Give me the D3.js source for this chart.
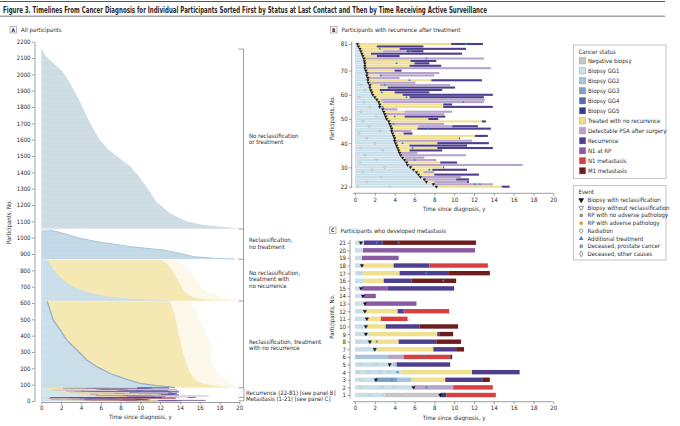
<!DOCTYPE html>
<html><head><meta charset="utf-8">
<script src="https://cdn.jsdelivr.net/npm/d3@7"></script>
<style>
body{margin:0;background:#fff}
svg{display:block}
text{font-family:"Liberation Sans Narrow","DejaVu Sans Condensed",Lato,sans-serif;fill:#2a2a2a}
</style></head>
<body><svg id="c" width="680" height="426"></svg>
<script>
// ---------- legend data ----------
const statusNames = ["Negative biopsy","Biopsy GG1","Biopsy GG2","Biopsy GG3","Biopsy GG4","Biopsy GG5","Treated with no recurrence","Detectable PSA after surgery","Recurrence","N1 at RP","N1 metastasis","M1 metastasis"];
const statusColors = ["#c6c6c6","#c8dfea","#a6c6de","#7d9fc6","#5b69ab","#2f3f8f","#f1df90","#b8a2ce","#4e3e8e","#8a5aa2","#d8403f","#6d1d1e"];
const eventNames = ["Biopsy with reclassification","Biopsy without reclassification","RP with no adverse pathology","RP with adverse pathology","Radiation","Additional treatment","Deceased, prostate cancer","Deceased, other causes"];

// ---------- panel A: group outlines [participant no., years] ----------
const g1Edge = [[2155,0.05],[2110,0.47],[2069,1.2],[2018,2.15],[1947,2.9],[1834,3.9],[1722,4.75],[1650,5.4],[1599,5.9],[1538,6.8],[1487,7.9],[1436,9.0],[1364,10.0],[1313,10.6],[1221,11.6],[1150,13.0],[1099,14.7],[1078,16.4],[1058,19.7],[1054,19.9]];
const g2Edge = [[1049,0.8],[1027,2.2],[996,3.9],[976,5.6],[945,9.0],[935,10.6],[925,12.3],[904,14.0],[884,15.4],[874,17.4],[870,19.0],[869,19.5]];
const g3Treat = [[866,0.6],[833,0.9],[782,1.55],[741,2.2],[700,3.2],[669,4.6],[643,6.3],[626,9.0],[618,12.3],[614,14.0]];
const g3End = [[866,12.0],[840,12.8],[800,13.2],[760,13.6],[720,14.0],[680,14.3],[650,14.8],[630,15.5],[618,17.0],[614,19.8]];
const g3Tail = [[866,13.5],[830,14.5],[790,15.0],[750,15.5],[710,16.0],[670,16.5],[640,18.0],[620,19.5],[614,19.9]];
const g4Treat = [[611,0.6],[557,0.88],[496,1.2],[435,1.9],[374,2.55],[312,3.6],[251,4.6],[210,5.6],[170,6.9],[139,8.3],[108,10.0],[94,11.6],[86,13.0],[82,13.5]];
const g4End = [[611,13.0],[560,13.3],[500,13.6],[440,13.8],[380,14.0],[320,14.2],[260,14.5],[200,14.8],[150,15.2],[115,15.8],[95,17.0],[85,19.0],[82,19.8]];
const g4Tail = [[611,15.0],[560,15.5],[500,16.0],[440,16.5],[380,17.0],[320,17.3],[260,17.0],[200,17.5],[150,18.0],[110,19.0],[90,19.8],[82,19.9]];
const groupLabels = [["No reclassification","or treatment"],["Reclassification,","no treatment"],["No reclassification,","treatment with","no recurrence"],["Reclassification, treatment","with no recurrence"]];
const groupBounds = [2155,1053,868,612,81];

// ---------- panel B: participants 22..81 (years) ----------
const bTreat   = [8.2,7.9,7.2,7.0,6.6,6.4,6.2,5.9,5.6,5.3,5.2,5.0,4.8,4.6,4.5,4.4,4.3,4.2,4.1,4.0,4.0,3.9,3.8,3.7,3.7,3.6,3.5,3.4,3.2,3.1,3.0,2.9,2.8,2.5,2.5,2.4,2.2,2.0,1.8,1.7,1.6,1.5,1.5,1.35,1.3,1.3,1.2,1.2,1.1,1.0,1.0,1.0,0.95,0.9,0.8,0.7,0.6,0.5,0.35,0.25];
const bYellowEnd=[14.8,7.9,8.0,7.1,6.7,8.0,6.9,7.8,8.9,5.4,8.6,5.1,5.0,4.7,4.6,5.5,8.3,5.5,8.3,4.1,10.5,12.1,4.9,3.8,6.3,6.4,3.6,12.8,7.4,5.0,3.1,5.0,2.9,8.9,8.9,2.8,2.6,5.5,4.8,4.0,2.5,3.3,2.5,1.5,7.7,1.4,2.5,1.3,4.0,1.1,5.5,6.0,5.6,1.0,2.2,1.6,2.8,4.5,2.2,9.7];
const bPsaEnd  = [14.8,13.9,11.3,10.2,10.7,8.0,8.0,7.8,8.9,16.9,8.6,8.2,7.0,11.2,6.3,5.5,8.3,5.5,8.3,11.8,10.5,12.1,4.9,5.7,6.3,9.8,9.0,12.8,7.4,5.0,9.0,9.8,4.3,8.9,8.9,13.0,13.1,5.5,4.8,4.0,2.5,3.3,9.6,6.1,7.7,4.5,8.0,8.5,4.0,13.7,5.5,6.0,5.6,13.0,2.2,1.6,5.2,4.5,2.2,9.7];
const bRecEnd  = [15.6,13.9,11.5,11.5,10.7,12.5,8.0,11.3,9.0,16.9,10.3,8.2,7.0,11.2,6.3,8.8,13.9,11.3,13.5,11.8,10.6,13.4,5.8,5.7,13.7,12.4,9.0,13.2,8.4,9.1,9.0,9.8,4.3,13.9,9.8,13.0,13.1,13.0,13.9,7.5,8.8,10.1,9.6,6.1,12.8,4.5,8.0,8.5,4.7,13.7,8.7,7.5,8.2,13.0,4.5,10.8,6.9,11.2,6.9,12.9];
const bHollow = [[22,0.3],[22,3.5],[24,1.2],[26,2.6],[28,0.8],[29,1.7],[30,3.0],[32,0.5],[33,2.2],[35,1.0],[37,2.8],[38,0.6],[40,2.0],[42,1.2],[44,0.4],[45,2.5],[47,1.4],[49,0.8],[51,2.2],[53,0.6],[55,1.5],[57,0.9],[59,0.4],[62,1.0],[64,0.6]];
const bAdditional = [[81,11.2],[79,2.5],[78,5.6],[75,7.2],[73,4.2],[68,2.6],[66,5.5],[64,3.0],[61,2.7],[59,5.2],[57,10.9],[55,2.8],[51,4.0],[48,3.9],[46,7.4],[40,4.8],[38,5.8],[33,6.0],[29,7.5],[23,12.1],[23,12.6]];

// ---------- panel C: participants 1..21, segments [participant, status index, start, end] ----------
const cSegments = [
 [1,1,0,3.0],[1,0,3.0,8.6],[1,5,8.6,9.2],[1,10,9.2,14.2],
 [2,1,0,5.9],[2,7,5.9,9.9],[2,10,9.9,13.9],
 [3,1,0,2.1],[3,3,2.1,4.3],[3,2,4.3,5.7],[3,6,5.7,9.1],[3,8,9.1,12.9],[3,11,12.9,13.6],
 [4,1,0,4.6],[4,6,4.6,11.8],[4,8,11.8,16.6],
 [5,1,0,3.8],[5,2,3.8,4.2],[5,8,4.2,9.6],
 [6,2,0,3.3],[6,7,3.3,4.9],[6,10,4.9,9.6],[6,11,9.6,9.8],
 [7,1,0,2.2],[7,6,2.2,7.9],[7,8,7.9,10.2],[7,11,10.2,11.0],
 [8,1,0,1.5],[8,6,1.5,4.4],[8,8,4.4,8.2],[8,11,8.2,10.7],
 [9,1,0,1.5],[9,6,1.5,8.3],[9,8,8.3,8.5],[9,11,8.5,9.9],
 [10,1,0,1.2],[10,6,1.2,3.1],[10,8,3.1,6.5],[10,11,6.5,10.4],
 [11,1,0,1.2],[11,6,1.2,2.6],[11,10,2.6,5.3],
 [12,1,0,1.0],[12,6,1.0,4.3],[12,8,4.3,5.0],[12,10,5.0,9.5],
 [13,1,0,1.0],[13,9,1.0,6.2],
 [14,1,0,0.9],[14,9,0.9,2.1],
 [15,1,0,0.7],[15,9,0.7,3.3],[15,8,3.3,10.0],
 [16,1,0,0.9],[16,6,0.9,2.9],[16,8,2.9,5.7],[16,11,5.7,10.2],
 [17,1,0,0.9],[17,6,0.9,4.5],[17,8,4.5,9.4],[17,11,9.4,13.6],
 [18,1,0,0.7],[18,6,0.7,3.9],[18,8,3.9,7.5],[18,10,7.5,13.4],
 [19,1,0,0.7],[19,9,0.7,4.4],
 [20,1,0,0.8],[20,9,0.8,12.1],
 [21,1,0,0.9],[21,8,0.9,2.8],[21,11,2.8,12.2]
];
const cReclass = [[21,0.6],[18,0.7],[15,0.6],[14,0.8],[13,1.0],[12,1.0],[11,1.2],[10,1.1],[9,1.1],[8,1.5],[7,2.0],[5,3.5],[3,2.1],[2,5.9],[1,8.6]];
const cHollow = [[21,0.5],[17,0.5],[8,0.4],[5,0.5],[5,2.1],[4,0.3],[4,1.3],[4,2.5],[4,3.4],[3,0.6],[2,0.6],[2,2.7],[2,3.9],[1,1.5],[1,3.0],[1,5.2]];
const cAdditional = [[21,2.2],[21,4.4],[17,7.2],[16,8.9],[12,4.9],[8,2.2],[6,7.0],[4,4.3],[3,3.7],[2,7.2]];

// ---------- axis ticks ----------
const aYTicks = d3.range(0,2201,100);
const timeTicks = d3.range(0,21,2);
const bYTicks = [22,30,40,50,60,70,81];
const cYTicks = d3.range(1,22);

// ================= drawing =================
const svg = d3.select('#c');
const FS = 6;
const FONT = '"Liberation Sans Narrow","DejaVu Sans Condensed",Lato,sans-serif';

// title block
svg.append('line').attr('x1',0).attr('x2',665).attr('y1',1.5).attr('y2',1.5).attr('stroke','#c3262d').attr('stroke-width',1.2);
svg.append('text').attr('x',3).attr('y',12.6).attr('font-size',8).attr('font-weight','bold').attr('fill','#333')
  .attr('textLength',484).attr('lengthAdjust','spacingAndGlyphs')
  .text('Figure 3. Timelines From Cancer Diagnosis for Individual Participants Sorted First by Status at Last Contact and Then by Time Receiving Active Surveillance');
svg.append('line').attr('x1',0).attr('x2',665).attr('y1',16.3).attr('y2',16.3).attr('stroke','#a3a3a3').attr('stroke-width',1.6);

function panelLabel(x,y,letter,title){
  svg.append('rect').attr('x',x).attr('y',y).attr('width',6.5).attr('height',6.5).attr('fill','#fff').attr('stroke','#888').attr('stroke-width',0.6);
  svg.append('text').attr('x',x+3.25).attr('y',y+5.3).attr('text-anchor','middle').attr('font-size',5).attr('font-weight','bold').text(letter);
  svg.append('text').attr('x',x+11).attr('y',y+5.6).attr('font-size',FS).text(title);
}
panelLabel(10,26.5,'A','All participants');
panelLabel(330.5,26.5,'B','Participants with recurrence after treatment');
panelLabel(329.5,227,'C','Participants who developed metastasis');

function styleAxis(g){
  g.selectAll('path.domain').attr('stroke','#777').attr('stroke-width',0.7);
  g.selectAll('.tick line').attr('stroke','#777').attr('stroke-width',0.7);
  g.selectAll('.tick text').attr('font-size',FS).attr('fill','#333').attr('font-family',FONT);
}
function yTitle(x,y,t){
  svg.append('text').attr('transform',`translate(${x},${y}) rotate(-90)`).attr('text-anchor','middle').attr('font-size',FS).text(t);
}
function xTitle(x,y,t){
  svg.append('text').attr('x',x).attr('y',y).attr('text-anchor','middle').attr('font-size',FS).text(t);
}

// ---------------- Panel A ----------------
const xA = d3.scaleLinear().domain([0,20]).range([41.3,239.3]);
const yA = d3.scaleLinear().domain([0,2200]).range([401,41.7]);
const gA = svg.append('g');
const areaA = d3.area().y(d=>yA(d[0])).x0(xA(0)).x1(d=>xA(d[1]));
const areaAsmooth = d3.area().y(d=>yA(d[0])).x0(xA(0)).x1(d=>xA(d[1])).curve(d3.curveBasis);
const lineA = d3.line().y(d=>yA(d[0])).x(d=>xA(d[1]));

gA.append('path').datum(g1Edge).attr('d',areaA).attr('fill','#c9d9e1');
gA.append('path').datum(g2Edge).attr('d',areaA).attr('fill','#bcd5e5');
gA.append('path').datum(g2Edge).attr('d',lineA).attr('fill','none').attr('stroke','#a2c0da').attr('stroke-width',1);
gA.append('path').datum(g3Tail).attr('d',areaAsmooth).attr('fill','#fcf8e8');
gA.append('path').datum(g3End).attr('d',areaAsmooth).attr('fill','#f4e6aa');
gA.append('path').datum(g3Treat).attr('d',areaA).attr('fill','#c4dbe7');
gA.append('path').datum(g4Tail).attr('d',areaAsmooth).attr('fill','#fcf8e8');
gA.append('path').datum(g4End).attr('d',areaAsmooth).attr('fill','#f4e6aa');
gA.append('path').datum(g4Treat).attr('d',areaA).attr('fill','#c4dbe7');
gA.append('path').datum(g4Treat).attr('d',lineA).attr('fill','none').attr('stroke','#86a8cb').attr('stroke-width',1.3);

// streak texture (white hairlines) over the large groups
const streakRows = d3.range(90,2150,7);
gA.append('g').selectAll('line').data(streakRows).join('line')
  .attr('x1',xA(0)).attr('x2',xA(20)).attr('y1',d=>yA(d)).attr('y2',d=>yA(d))
  .attr('stroke','#fff').attr('stroke-width',0.3).attr('opacity',0.5);

function drawBRows(g,x,y,h){
  for(let i=0;i<bTreat.length;i++){
    const row=22+i;
    const segs=[[1,0,bTreat[i]],[6,bTreat[i],bYellowEnd[i]],[7,bYellowEnd[i],bPsaEnd[i]],[8,bPsaEnd[i],bRecEnd[i]]];
    segs.forEach(s=>{ if(s[2]>s[1]) g.append('rect').attr('x',x(s[1])).attr('width',x(s[2])-x(s[1]))
      .attr('y',y(row)-h/2).attr('height',h).attr('fill',statusColors[s[0]]); });
  }
}
function drawCRows(g,x,y,h){
  g.selectAll(null).data(cSegments).join('rect')
    .attr('x',d=>x(d[2])).attr('width',d=>x(d[3])-x(d[2]))
    .attr('y',d=>y(d[0])-h/2).attr('height',h).attr('fill',d=>statusColors[d[1]]);
}
drawBRows(gA.append('g').attr('opacity',0.8),xA,yA,1.0);
drawCRows(gA.append('g').attr('opacity',0.8),xA,yA,0.9);

const axAy = svg.append('g').attr('transform','translate(34.5,0)')
  .call(d3.axisLeft(yA).tickValues(aYTicks).tickFormat(d3.format('d')).tickSize(2.5).tickSizeOuter(0).tickPadding(1.5));
styleAxis(axAy);
const axAx = svg.append('g').attr('transform','translate(0,402)')
  .call(d3.axisBottom(xA).tickValues(timeTicks).tickSize(2.5).tickSizeOuter(0).tickPadding(1.5));
styleAxis(axAx);
yTitle(10.5,222,'Participants, No.');
xTitle(xA(10),418.8,'Time since diagnosis, y');

// group brackets
const br = svg.append('g').attr('stroke','#888').attr('stroke-width',0.8).attr('fill','none');
br.append('line').attr('x1',243.5).attr('x2',243.5).attr('y1',yA(groupBounds[0])).attr('y2',yA(groupBounds[4]));
groupBounds.forEach(v=>br.append('line').attr('x1',238.5).attr('x2',243.5).attr('y1',yA(v)).attr('y2',yA(v)));
br.append('line').attr('x1',244).attr('x2',244).attr('y1',yA(81)).attr('y2',yA(22));
br.append('line').attr('x1',238.5).attr('x2',244).attr('y1',yA(22)).attr('y2',yA(22));
br.append('line').attr('x1',244).attr('x2',244).attr('y1',yA(21)).attr('y2',yA(1));
br.append('line').attr('x1',238.5).attr('x2',244).attr('y1',yA(1)).attr('y2',yA(1));
const labelYs = [137.7,242.2,274.7,343.7];
groupLabels.forEach((lines,k)=>{
  lines.forEach((t,j)=>svg.append('text').attr('x',249).attr('y',labelYs[k]+j*6.7).attr('font-size',FS).text(t));
});
svg.append('text').attr('x',246).attr('y',394.6).attr('font-size',FS).text('Recurrence (22-81) [see panel B]');
svg.append('text').attr('x',246).attr('y',401.2).attr('font-size',FS).text('Metastasis (1-21) [see panel C]');

// markers
function triDown(g,pts,x,y,size,fill,stroke){
  g.selectAll(null).data(pts).join('path')
    .attr('d',d3.symbol().type(d3.symbolTriangle).size(size)())
    .attr('transform',d=>`translate(${x(d[1])},${y(d[0])}) rotate(180)`)
    .attr('fill',fill).attr('stroke',stroke).attr('stroke-width',0.35);
}
function triUp(g,pts,x,y,size,fill){
  g.selectAll(null).data(pts).join('path')
    .attr('d',d3.symbol().type(d3.symbolTriangle).size(size)())
    .attr('transform',d=>`translate(${x(d[1])},${y(d[0])})`).attr('fill',fill);
}

// ---------------- Panel B ----------------
const xB = d3.scaleLinear().domain([0,20]).range([355,553.3]);
const yB = d3.scaleLinear().domain([22,81]).range([186.7,44]);
const gB = svg.append('g');
drawBRows(gB,xB,yB,2.1);
triDown(gB,bHollow,xB,yB,2.5,'#fff','#888');
triUp(gB,bAdditional,xB,yB,3,'#2f8fc9');
triDown(gB,bTreat.map((t,i)=>[22+i,t]),xB,yB,3.2,'#111','#111');
const axBy = svg.append('g').attr('transform','translate(351.7,0)')
  .call(d3.axisLeft(yB).tickValues(bYTicks).tickSize(2.5).tickSizeOuter(0).tickPadding(1.5));
styleAxis(axBy);
axBy.select('path.domain').attr('d','M0,188.3V41.7');
const axBx = svg.append('g').attr('transform','translate(0,193.3)')
  .call(d3.axisBottom(xB).tickValues(timeTicks).tickSize(2.5).tickSizeOuter(0).tickPadding(1.5));
styleAxis(axBx);
axBx.select('path.domain').attr('d','M353,0H553.3');
yTitle(334,118,'Participants, No.');
xTitle(xB(10),210.8,'Time since diagnosis, y');

// ---------------- Panel C ----------------
const xC = d3.scaleLinear().domain([0,20]).range([355,553.3]);
const yC = d3.scaleLinear().domain([1,21]).range([395,242.7]);
const gC = svg.append('g');
drawCRows(gC,xC,yC,4.4);
triDown(gC,cHollow,xC,yC,3.5,'#fff','#888');
triUp(gC,cAdditional,xC,yC,3.5,'#2f8fc9');
triDown(gC,cReclass,xC,yC,5,'#111','#111');
const axCy = svg.append('g').attr('transform','translate(350,0)')
  .call(d3.axisLeft(yC).tickValues(cYTicks).tickSize(2.5).tickSizeOuter(0).tickPadding(1.5));
styleAxis(axCy);
axCy.select('path.domain').attr('d','M0,398.3V240');
const axCx = svg.append('g').attr('transform','translate(0,401.7)')
  .call(d3.axisBottom(xC).tickValues(timeTicks).tickSize(2.5).tickSizeOuter(0).tickPadding(1.5));
styleAxis(axCx);
axCx.select('path.domain').attr('d','M353,0H553.3');
yTitle(334,316.7,'Participants, No.');
xTitle(xC(10),420,'Time since diagnosis, y');

// ---------------- Legends ----------------
const lg = svg.append('g');
lg.append('rect').attr('x',573.3).attr('y',45).attr('width',92.7).attr('height',133.3).attr('fill','#fff').attr('stroke','#aaa').attr('stroke-width',0.7);
lg.append('text').attr('x',578.5).attr('y',53.6).attr('font-size',FS).text('Cancer status');
statusNames.forEach((n,i)=>{
  const cy = 60.7+i*10;
  lg.append('rect').attr('x',579.2).attr('y',cy-3.3).attr('width',6.6).attr('height',6.6).attr('fill',statusColors[i]).attr('stroke','#999').attr('stroke-width',0.4);
  lg.append('text').attr('x',588).attr('y',cy+2).attr('font-size',FS).text(n);
});
lg.append('rect').attr('x',573.3).attr('y',185.7).attr('width',92.7).attr('height',74.3).attr('fill','#fff').attr('stroke','#aaa').attr('stroke-width',0.7);
lg.append('text').attr('x',578.5).attr('y',193.6).attr('font-size',FS).text('Event');
const evSym = [
  {t:d3.symbolTriangle,rot:180,fill:'#111',stroke:'#111'},
  {t:d3.symbolTriangle,rot:180,fill:'#fff',stroke:'#555'},
  {t:d3.symbolSquare,rot:0,fill:'#8a8a8a',stroke:'none'},
  {t:d3.symbolSquare,rot:0,fill:'#e8923a',stroke:'none'},
  {t:d3.symbolCircle,rot:0,fill:'#fff',stroke:'#555'},
  {t:d3.symbolTriangle,rot:0,fill:'#2f8fc9',stroke:'none'},
  {t:d3.symbolCross,rot:45,fill:'#5a8fb8',stroke:'none'},
  {t:d3.symbolDiamond,rot:0,fill:'#fff',stroke:'#555'}
];
eventNames.forEach((n,i)=>{
  const cy = 200+i*7.7;
  const s = evSym[i];
  lg.append('path').attr('d',d3.symbol().type(s.t).size(10)()).attr('transform',`translate(581.2,${cy}) rotate(${s.rot})`)
    .attr('fill',s.fill).attr('stroke',s.stroke).attr('stroke-width',0.6);
  lg.append('text').attr('x',587.5).attr('y',cy+2).attr('font-size',FS).text(n);
});
</script></body></html>
